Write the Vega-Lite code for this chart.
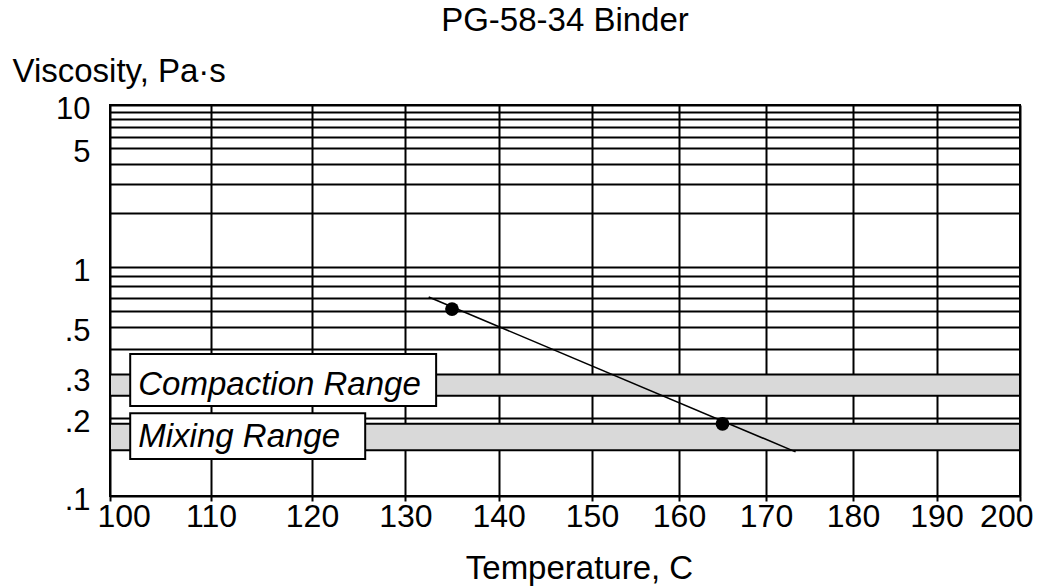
{
  "$schema": "https://vega.github.io/schema/vega-lite/v6.json",
  "width": 910,
  "height": 391,
  "autosize": {"type": "none"},
  "padding": {"left": 110, "top": 105, "right": 28, "bottom": 91},
  "background": "white",
  "config": {
    "font": "Liberation Sans",
    "view": {"stroke": "black", "strokeWidth": 2}
  },
  "title": {
    "text": "PG-58-34 Binder",
    "fontSize": 33,
    "fontWeight": "normal",
    "color": "black",
    "anchor": "middle",
    "offset": 17
  },
  "datasets": {
    "bands": [
      {"range": "Compaction Range", "lo": 0.25, "hi": 0.31, "t0": 100, "t1": 200},
      {"range": "Mixing Range", "lo": 0.15, "hi": 0.19, "t0": 100, "t1": 200}
    ],
    "boxes": [
      {"label": "Compaction Range", "x1": 102, "x2": 133.3, "y1": 0.2256, "y2": 0.381, "tx": 102.8, "ty": 0.278},
      {"label": "Mixing Range", "x1": 102, "x2": 125.7, "y1": 0.139, "y2": 0.21, "tx": 102.8, "ty": 0.169}
    ],
    "points": [
      {"temperature": 135, "viscosity": 0.615},
      {"temperature": 165, "viscosity": 0.19}
    ],
    "fit": [
      {"temperature": 132.5, "viscosity": 0.707},
      {"temperature": 173.4, "viscosity": 0.148}
    ]
  },
  "layer": [
    {
      "data": {"name": "bands"},
      "mark": {"type": "rect", "fill": "#d9d9d9", "stroke": "black", "strokeWidth": 2},
      "encoding": {
        "x": {
          "field": "t0", "type": "quantitative",
          "scale": {"type": "linear", "domain": [100, 120, 150, 180, 200], "range": [0, 202, 482, 743, 910], "nice": false, "zero": false},
          "axis": {
            "title": "Temperature, C",
            "values": [100, 110, 120, 130, 140, 150, 160, 170, 180, 190, 200],
            "grid": true, "gridColor": "black", "gridWidth": 2, "gridOpacity": 1,
            "domain": false,
            "ticks": true, "tickSize": 5, "tickColor": "black", "tickWidth": 2,
            "labelFontSize": 32, "labelColor": "black", "labelPadding": 0,
            "labelOverlap": false, "labelFlush": true, "labelFlushOffset": 13,
            "titleFontSize": 33, "titleFontWeight": "normal", "titleColor": "black",
            "titlePadding": 20, "titleX": 469
          }
        },
        "x2": {"field": "t1"},
        "y": {
          "field": "lo", "type": "quantitative",
          "scale": {"type": "log", "domain": [0.1, 0.2, 0.5, 1, 2, 5, 10], "range": [391, 313, 222, 162, 108, 43, 0], "nice": false},
          "axis": {
            "title": "Viscosity, Pa·s",
            "values": [0.1, 0.2, 0.3, 0.4, 0.5, 0.6, 0.7, 0.8, 0.9, 1, 2, 3, 4, 5, 6, 7, 8, 9, 10],
            "labelExpr": "datum.value == 10 ? '10' : datum.value == 5 ? '5' : datum.value == 1 ? '1' : datum.value == 0.5 ? '.5' : datum.value == 0.3 ? '.3' : datum.value == 0.2 ? '.2' : datum.value == 0.1 ? '.1' : ''",
            "grid": true, "gridColor": "black", "gridWidth": 2, "gridOpacity": 1,
            "domain": false, "ticks": false,
            "labelFontSize": 31, "labelColor": "black", "labelPadding": 20,
            "labelBaseline": "middle", "labelOffset": 4, "labelOverlap": false,
            "titleAngle": 0, "titleAlign": "left", "titleBaseline": "alphabetic",
            "titleX": -98, "titleY": -24,
            "titleFontSize": 33, "titleFontWeight": "normal", "titleColor": "black"
          }
        },
        "y2": {"field": "hi"}
      }
    },
    {
      "data": {"name": "fit"},
      "mark": {"type": "line", "color": "black", "strokeWidth": 1.6},
      "encoding": {
        "x": {"field": "temperature", "type": "quantitative", "scale": {"type": "linear", "domain": [100, 120, 150, 180, 200], "range": [0, 202, 482, 743, 910], "nice": false, "zero": false}},
        "y": {"field": "viscosity", "type": "quantitative", "scale": {"type": "log", "domain": [0.1, 0.2, 0.5, 1, 2, 5, 10], "range": [391, 313, 222, 162, 108, 43, 0], "nice": false}}
      }
    },
    {
      "data": {"name": "points"},
      "mark": {"type": "point", "filled": true, "color": "black", "size": 190, "opacity": 1},
      "encoding": {
        "x": {"field": "temperature", "type": "quantitative", "scale": {"type": "linear", "domain": [100, 120, 150, 180, 200], "range": [0, 202, 482, 743, 910], "nice": false, "zero": false}},
        "y": {"field": "viscosity", "type": "quantitative", "scale": {"type": "log", "domain": [0.1, 0.2, 0.5, 1, 2, 5, 10], "range": [391, 313, 222, 162, 108, 43, 0], "nice": false}}
      }
    },
    {
      "data": {"name": "boxes"},
      "mark": {"type": "rect", "fill": "white", "stroke": "black", "strokeWidth": 2},
      "encoding": {
        "x": {"field": "x1", "type": "quantitative", "scale": {"type": "linear", "domain": [100, 120, 150, 180, 200], "range": [0, 202, 482, 743, 910], "nice": false, "zero": false}},
        "x2": {"field": "x2"},
        "y": {"field": "y1", "type": "quantitative", "scale": {"type": "log", "domain": [0.1, 0.2, 0.5, 1, 2, 5, 10], "range": [391, 313, 222, 162, 108, 43, 0], "nice": false}},
        "y2": {"field": "y2"}
      }
    },
    {
      "data": {"name": "boxes"},
      "mark": {"type": "text", "align": "left", "baseline": "middle", "fontSize": 33, "fontStyle": "italic", "color": "black"},
      "encoding": {
        "x": {"field": "tx", "type": "quantitative", "scale": {"type": "linear", "domain": [100, 120, 150, 180, 200], "range": [0, 202, 482, 743, 910], "nice": false, "zero": false}},
        "y": {"field": "ty", "type": "quantitative", "scale": {"type": "log", "domain": [0.1, 0.2, 0.5, 1, 2, 5, 10], "range": [391, 313, 222, 162, 108, 43, 0], "nice": false}},
        "text": {"field": "label"}
      }
    }
  ]
}
